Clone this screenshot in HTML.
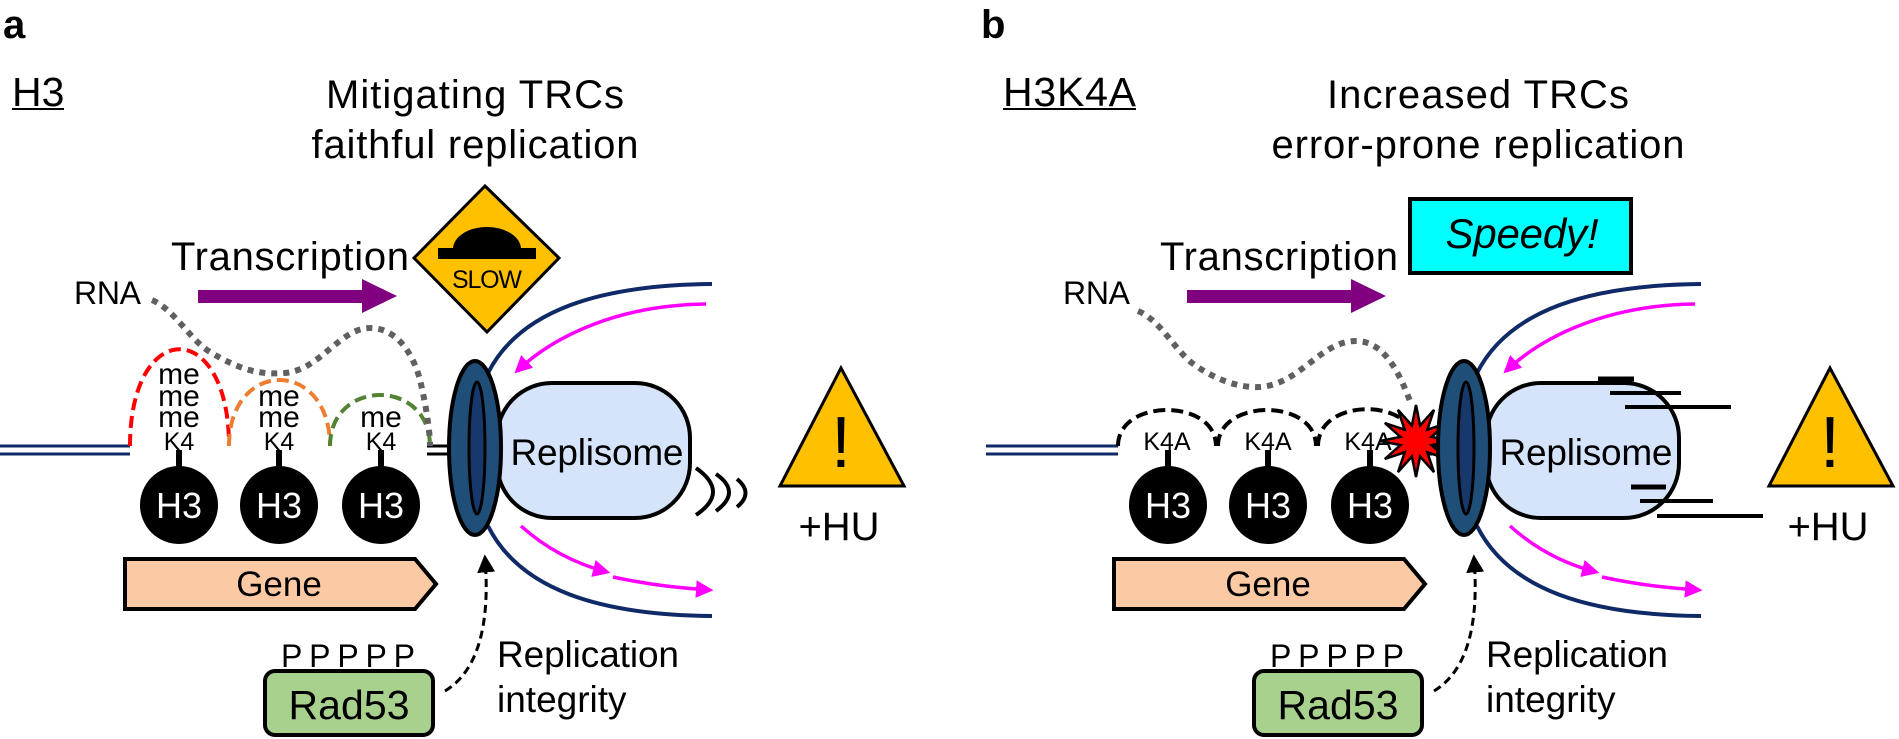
<!DOCTYPE html>
<html><head><meta charset="utf-8"><style>
html,body{margin:0;padding:0;background:#fff;}
svg{display:block;font-family:"Liberation Sans",Arial,sans-serif;}
</style></head><body>
<svg width="1899" height="739" viewBox="0 0 1899 739" xmlns="http://www.w3.org/2000/svg">
<defs>
<marker id="mg" viewBox="0 0 10 10" refX="8" refY="5" markerWidth="5" markerHeight="5" orient="auto" markerUnits="strokeWidth"><path d="M0,0 L10,5 L0,10 Z" fill="#ff00ff"/></marker>
<marker id="bk" viewBox="0 0 10 10" refX="8" refY="5" markerWidth="6" markerHeight="6" orient="auto" markerUnits="strokeWidth"><path d="M0,0 L10,5 L0,10 Z" fill="#000"/></marker>
<g id="shared">
  <text x="171" y="270" font-size="40" textLength="238">Transcription</text>
  <rect x="198" y="290" width="166" height="13" fill="#800080"/>
  <polygon points="362,279 397,296 362,313" fill="#800080"/>
  <text x="74" y="304" font-size="32" textLength="67">RNA</text>
  <g fill="#000">
    <rect x="176" y="450" width="6" height="22"/><rect x="276" y="450" width="6" height="22"/><rect x="378" y="450" width="6" height="22"/>
    <circle cx="179" cy="505" r="39"/><circle cx="279" cy="505" r="39"/><circle cx="381" cy="505" r="39"/>
  </g>
  <g fill="#fff" font-size="36" text-anchor="middle">
    <text x="179" y="518">H3</text><text x="279" y="518">H3</text><text x="381" y="518">H3</text>
  </g>
  <polygon points="125,559 415,559 436,584 415,609 125,609" fill="#fbcaa5" stroke="#000" stroke-width="4"/>
  <text x="279" y="596" font-size="35" text-anchor="middle">Gene</text>
  <path d="M488,373 C520,310 600,285 712,284" fill="none" stroke="#0f2a66" stroke-width="4"/>
  <path d="M488,526 C520,590 600,615 712,616" fill="none" stroke="#0f2a66" stroke-width="4"/>
  <path d="M706,304 C620,305 555,335 517,371" fill="none" stroke="#ff00ff" stroke-width="3.5" marker-end="url(#mg)"/>
  <path d="M521,526 C550,552 580,565 607,572" fill="none" stroke="#ff00ff" stroke-width="3.5" marker-end="url(#mg)"/>
  <path d="M613,577 C650,585 680,588 710,590" fill="none" stroke="#ff00ff" stroke-width="3.5" marker-end="url(#mg)"/>
  <line x1="427" y1="446" x2="475" y2="446" stroke="#000" stroke-width="3"/>
  <line x1="427" y1="454" x2="475" y2="454" stroke="#000" stroke-width="3"/>
  <rect x="497" y="383" width="193" height="135" rx="55" fill="#d6e4fb" stroke="#000" stroke-width="4"/>
  <text x="597" y="465" font-size="37" text-anchor="middle" textLength="173">Replisome</text>
  <polygon points="841,368 780,486 904,486" fill="#ffc000" stroke="#000" stroke-width="3"/>
  <text x="841" y="467" font-size="72" text-anchor="middle">!</text>
  <text x="839" y="540" font-size="40" text-anchor="middle" textLength="81">+HU</text>
  <text x="281" y="667" font-size="32" textLength="134">PPPPP</text>
  <rect x="265" y="671" width="168" height="64" rx="10" fill="#a9d18e" stroke="#000" stroke-width="4"/>
  <text x="349" y="719" font-size="41" text-anchor="middle" textLength="121">Rad53</text>
  <path d="M445,691 C480,670 490,620 485,558" fill="none" stroke="#000" stroke-width="3" stroke-dasharray="8 5" marker-end="url(#bk)"/>
  <text x="497" y="667" font-size="37" textLength="182">Replication</text>
  <text x="497" y="712" font-size="37">integrity</text>
</g>
<g id="ring">
  <ellipse cx="475" cy="448" rx="26" ry="87" fill="#1f4e79" stroke="#000" stroke-width="4"/>
  <ellipse cx="477" cy="448" rx="8" ry="66" fill="#17386a" stroke="#000" stroke-width="3"/>
</g>
</defs>

<text x="3" y="38" font-size="40" font-weight="bold">a</text>
<text x="12" y="106" font-size="41">H3</text>
<rect x="12" y="108" width="52" height="2" fill="#000"/>
<text x="475" y="108" font-size="40" text-anchor="middle" textLength="298">Mitigating TRCs</text>
<text x="475" y="158" font-size="40" text-anchor="middle" textLength="327">faithful replication</text>
<polygon points="485,186 559,258 487,332 414,258" fill="#ffc000" stroke="#000" stroke-width="3"/>
<rect x="438" y="248" width="98" height="11" fill="#000"/>
<path d="M453,249 A34,22 0 0 1 521,249 Z" fill="#000"/>
<text x="487" y="288" font-size="25" text-anchor="middle" textLength="70">SLOW</text>
<line x1="0" y1="446" x2="130" y2="446" stroke="#0f2a66" stroke-width="3"/>
<line x1="0" y1="454" x2="130" y2="454" stroke="#0f2a66" stroke-width="3"/>
<use href="#shared"/>
<path d="M130,446 C130,317 229,317 229,446" fill="none" stroke="#ff0000" stroke-width="4" stroke-dasharray="12 6"/>
<path d="M229,446 C229,358 330,358 330,446" fill="none" stroke="#ed7d31" stroke-width="4" stroke-dasharray="12 6"/>
<path d="M330,446 C330,378 430,378 430,446" fill="none" stroke="#548235" stroke-width="4" stroke-dasharray="12 6"/>
<path d="M152,300 C175,310 190,340 210,352 C240,370 260,375 285,373 C320,370 340,328 370,328 C400,328 415,360 420,380 C425,400 430,430 430,446" fill="none" stroke="#606060" stroke-width="6" stroke-dasharray="6 6"/>
<g font-size="30" text-anchor="middle">
  <text x="179" y="384">me</text><text x="179" y="406">me</text><text x="179" y="427">me</text>
  <text x="279" y="406">me</text><text x="279" y="427">me</text>
  <text x="381" y="427">me</text>
</g>
<g font-size="25" text-anchor="middle">
  <text x="179" y="450">K4</text><text x="279" y="450">K4</text><text x="381" y="450">K4</text>
</g>
<use href="#ring"/>
<g fill="none" stroke="#000" stroke-width="4">
  <path d="M696,468 Q730,492 696,515"/>
  <path d="M716,474 Q742,492 716,511"/>
  <path d="M737,479 Q754,493 737,507"/>
</g>

<text x="981" y="38" font-size="40" font-weight="bold">b</text>
<text x="1003" y="106" font-size="41" textLength="133">H3K4A</text>
<rect x="1003" y="108" width="133" height="2" fill="#000"/>
<text x="1478" y="108" font-size="40" text-anchor="middle" textLength="302">Increased TRCs</text>
<text x="1478" y="158" font-size="40" text-anchor="middle" textLength="413">error-prone replication</text>
<rect x="1410" y="199" width="221" height="74" fill="#00ffff" stroke="#000" stroke-width="4"/>
<text x="1522" y="248" font-size="42" font-style="italic" text-anchor="middle" textLength="153">Speedy!</text>
<line x1="986" y1="446" x2="1118" y2="446" stroke="#0f2a66" stroke-width="3"/>
<line x1="986" y1="454" x2="1118" y2="454" stroke="#0f2a66" stroke-width="3"/>
<use href="#shared" transform="translate(989,0)"/>
<g fill="none" stroke="#000" stroke-width="4" stroke-dasharray="12 6">
  <path d="M1118,446 C1118,398 1216,398 1216,446"/>
  <path d="M1218,446 C1218,398 1316,398 1316,446"/>
  <path d="M1318,446 C1318,398 1410,398 1415,440"/>
</g>
<path d="M1138,311 C1160,320 1175,350 1192,363 C1215,380 1240,388 1259,387 C1300,385 1320,341 1356,341 C1385,341 1400,375 1410,401" fill="none" stroke="#606060" stroke-width="6" stroke-dasharray="6 6"/>
<g font-size="25" text-anchor="middle">
  <text x="1167" y="450">K4A</text><text x="1268" y="450">K4A</text><text x="1368" y="450">K4A</text>
</g>
<polygon points="1452,441 1431.5,445.1 1447.2,459 1427.3,452.3 1434,472.2 1420.1,456.5 1416,477 1411.9,456.5 1398,472.2 1404.7,452.3 1384.8,459 1400.5,445.1 1380,441 1400.5,436.9 1384.8,423 1404.7,429.7 1398,409.8 1411.9,425.5 1416,405 1420.1,425.5 1434,409.8 1427.3,429.7 1447.2,423 1431.5,436.9" fill="#ff0000" stroke="#000" stroke-width="2.5"/>
<use href="#ring" transform="translate(989,0)"/>
<g stroke="#000" stroke-width="4">
  <line x1="1598" y1="379" x2="1634" y2="379" stroke-width="5"/>
  <line x1="1610" y1="393" x2="1681" y2="393"/>
  <line x1="1625" y1="407" x2="1731" y2="407"/>
  <line x1="1631" y1="487" x2="1666" y2="487" stroke-width="5"/>
  <line x1="1640" y1="501" x2="1713" y2="501"/>
  <line x1="1657" y1="516" x2="1763" y2="516"/>
</g>
</svg>
</body></html>
